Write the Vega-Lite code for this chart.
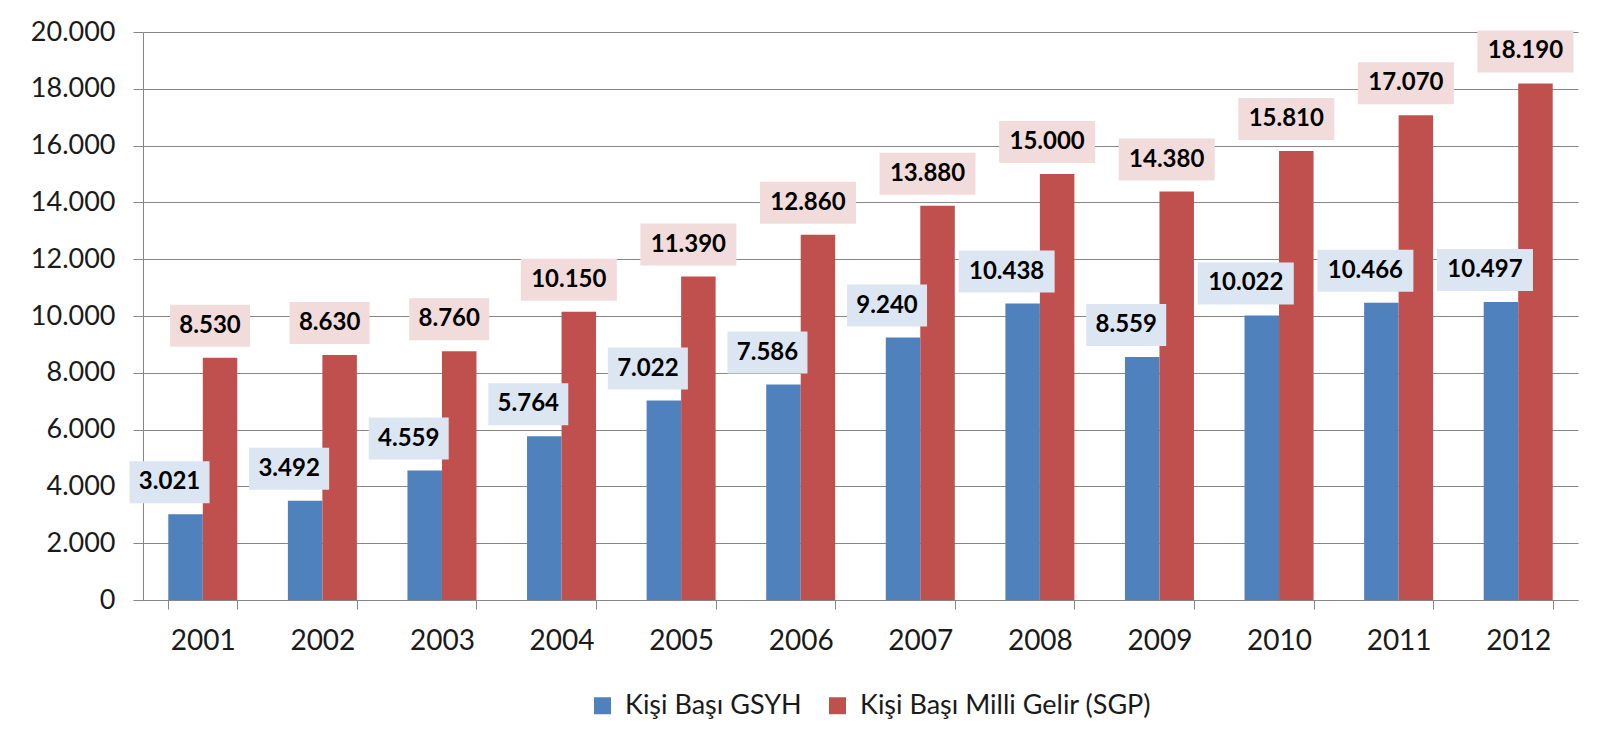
{
  "$schema": "https://vega.github.io/schema/vega-lite/v6.json",
  "width": 1435,
  "height": 568,
  "autosize": {"type": "none"},
  "padding": {"left": 143, "top": 32, "right": 21, "bottom": 153},
  "background": "white",
  "config": {
    "locale": {"number": {"decimal": ",", "thousands": ".", "grouping": [3], "currency": ["", ""]}},
    "font": "Lato",
    "view": {"stroke": null}
  },
  "data": {
    "values": [
      {"year": "2001", "series": "Kişi Başı GSYH", "value": 3021},
      {"year": "2002", "series": "Kişi Başı GSYH", "value": 3492},
      {"year": "2003", "series": "Kişi Başı GSYH", "value": 4559},
      {"year": "2004", "series": "Kişi Başı GSYH", "value": 5764},
      {"year": "2005", "series": "Kişi Başı GSYH", "value": 7022},
      {"year": "2006", "series": "Kişi Başı GSYH", "value": 7586},
      {"year": "2007", "series": "Kişi Başı GSYH", "value": 9240},
      {"year": "2008", "series": "Kişi Başı GSYH", "value": 10438},
      {"year": "2009", "series": "Kişi Başı GSYH", "value": 8559},
      {"year": "2010", "series": "Kişi Başı GSYH", "value": 10022},
      {"year": "2011", "series": "Kişi Başı GSYH", "value": 10466},
      {"year": "2012", "series": "Kişi Başı GSYH", "value": 10497},
      {"year": "2001", "series": "Kişi Başı Milli Gelir (SGP)", "value": 8530},
      {"year": "2002", "series": "Kişi Başı Milli Gelir (SGP)", "value": 8630},
      {"year": "2003", "series": "Kişi Başı Milli Gelir (SGP)", "value": 8760},
      {"year": "2004", "series": "Kişi Başı Milli Gelir (SGP)", "value": 10150},
      {"year": "2005", "series": "Kişi Başı Milli Gelir (SGP)", "value": 11390},
      {"year": "2006", "series": "Kişi Başı Milli Gelir (SGP)", "value": 12860},
      {"year": "2007", "series": "Kişi Başı Milli Gelir (SGP)", "value": 13880},
      {"year": "2008", "series": "Kişi Başı Milli Gelir (SGP)", "value": 15000},
      {"year": "2009", "series": "Kişi Başı Milli Gelir (SGP)", "value": 14380},
      {"year": "2010", "series": "Kişi Başı Milli Gelir (SGP)", "value": 15810},
      {"year": "2011", "series": "Kişi Başı Milli Gelir (SGP)", "value": 17070},
      {"year": "2012", "series": "Kişi Başı Milli Gelir (SGP)", "value": 18190}
    ]
  },
  "encoding": {
    "x": {
      "field": "year", "type": "nominal",
      "scale": {"paddingInner": 0.423, "paddingOuter": 0.2115},
      "axis": {
        "title": null, "labelAngle": 0, "tickBand": "extent", "tickSize": 9,
        "labelPadding": 40, "labelBaseline": "alphabetic", "labelFontSize": 28,
        "labelColor": "#1a1a1a", "grid": false, "domainColor": "#868686",
        "tickColor": "#868686", "labelFont": "Lato"
      }
    },
    "xOffset": {
      "field": "series", "type": "nominal",
      "sort": ["Kişi Başı GSYH", "Kişi Başı Milli Gelir (SGP)"],
      "scale": {"paddingInner": 0, "paddingOuter": 0}
    },
    "y": {
      "field": "value", "type": "quantitative",
      "scale": {"domain": [0, 20000], "nice": false},
      "axis": {
        "title": null, "values": [0, 2000, 4000, 6000, 8000, 10000, 12000, 14000, 16000, 18000, 20000],
        "format": ",d", "labelFontSize": 27, "labelColor": "#1a1a1a", "tickSize": 10,
        "tickColor": "#868686", "domainColor": "#868686", "gridColor": "#868686",
        "labelPadding": 18, "labelFont": "Lato"
      }
    }
  },
  "layer": [
    {
      "mark": {"type": "bar"},
      "encoding": {
        "color": {
          "field": "series", "type": "nominal",
          "sort": ["Kişi Başı GSYH", "Kişi Başı Milli Gelir (SGP)"],
          "scale": {"range": ["#4f81bd", "#c0504d"]},
          "legend": {
            "orient": "none", "legendX": 446, "legendY": 660, "direction": "horizontal",
            "title": null, "symbolType": "square", "symbolSize": 289, "symbolStrokeWidth": 0,
            "symbolOpacity": 1, "labelFontSize": 27, "labelOffset": 9, "columnPadding": 22,
            "padding": 0, "labelColor": "#1a1a1a", "labelFont": "Lato", "labelLimit": 0
          }
        }
      }
    },
    {
      "transform": [{"filter": "datum.series === 'Kişi Başı GSYH'"}],
      "mark": {"type": "point", "filled": true, "opacity": 1, "color": "#dce6f2", "size": 400, "strokeWidth": 0},
      "encoding": {
        "shape": {
          "condition": {"test": "datum.value >= 10000", "value": "M-6.4,-5.3H3.2V-1.1H-6.4Z"},
          "value": "M-5.6,-5.3H2.4V-1.1H-5.6Z"
        }
      }
    },
    {
      "transform": [{"filter": "datum.series !== 'Kişi Başı GSYH'"}],
      "mark": {"type": "point", "filled": true, "opacity": 1, "color": "#f2dcdb", "size": 400, "strokeWidth": 0},
      "encoding": {
        "shape": {
          "condition": {"test": "datum.value >= 10000", "value": "M-5.8,-5.3H3.8V-1.1H-5.8Z"},
          "value": "M-5.0,-5.3H3.0V-1.1H-5.0Z"
        }
      }
    },
    {
      "transform": [{"filter": "datum.series === 'Kişi Başı GSYH'"}],
      "mark": {"type": "text", "dx": -16, "dy": -32, "fontSize": 24, "fontWeight": "bold", "color": "#000000", "baseline": "middle", "font": "Lato"},
      "encoding": {"text": {"field": "value", "type": "quantitative", "format": ",d"}}
    },
    {
      "transform": [{"filter": "datum.series !== 'Kişi Başı GSYH'"}],
      "mark": {"type": "text", "dx": -10, "dy": -32, "fontSize": 24, "fontWeight": "bold", "color": "#000000", "baseline": "middle", "font": "Lato"},
      "encoding": {"text": {"field": "value", "type": "quantitative", "format": ",d"}}
    }
  ]
}
